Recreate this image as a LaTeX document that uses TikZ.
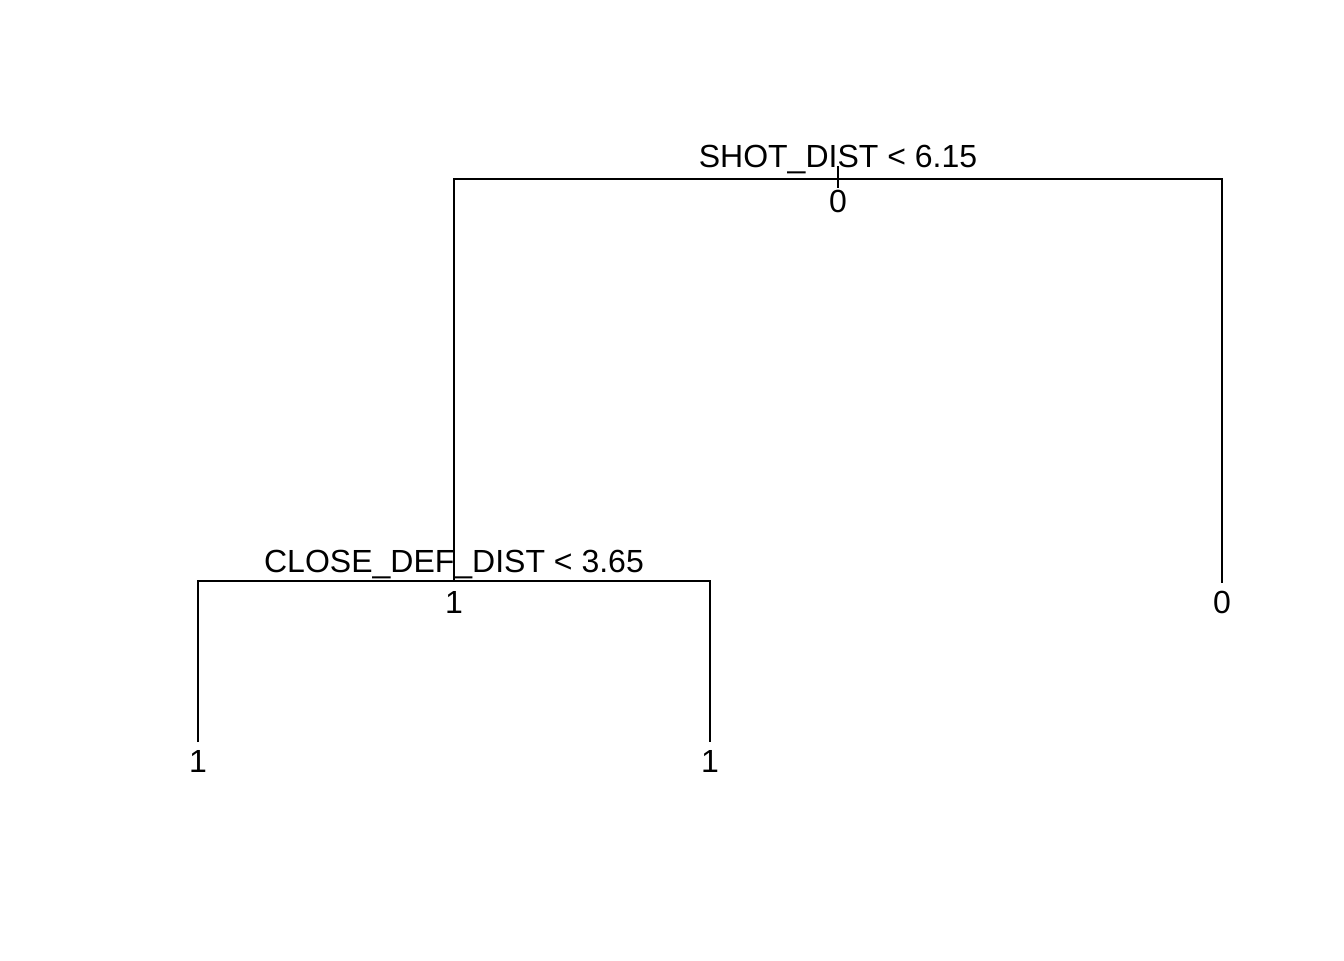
\documentclass[tikz,border=0pt]{standalone}
\usepackage{fontspec}
\setmainfont{Liberation Sans}
\begin{document}
\begin{tikzpicture}[x=0.75pt, y=-0.75pt,
    lbl/.style={anchor=base, inner sep=0pt, font=\fontsize{24}{28}\selectfont},
    edge/.style={line width=1.5pt}]
    \useasboundingbox (0,0) rectangle (1344,960);
    % tree points
    \coordinate (roottop) at (838,166);
    \coordinate (rootbot) at (838,188);
    \coordinate (root) at (838,179);
    \coordinate (n2) at (454,581);
    \coordinate (n3) at (1222,583);
    \coordinate (n4) at (198,742);
    \coordinate (n5) at (710,742);
    \draw[edge] (roottop) -- (rootbot);
    \draw[edge] (n2) |- (root) -| (n3);
    \draw[edge] (n4) |- (n2) -| (n5);
    % labels
    \node[lbl] (split1) at (838,167) {SHOT\_DIST < 6.15};
    \node[lbl] (yval1) at (838,212) {0};
    \node[lbl] (split2) at (454,572) {CLOSE\_DEF\_DIST < 3.65};
    \node[lbl] (yval2) at (454,613) {1};
    \node[lbl] (yval3) at (1222,613) {0};
    \node[lbl] (yval4) at (198,772) {1};
    \node[lbl] (yval5) at (710,772) {1};
\end{tikzpicture}
\end{document}
